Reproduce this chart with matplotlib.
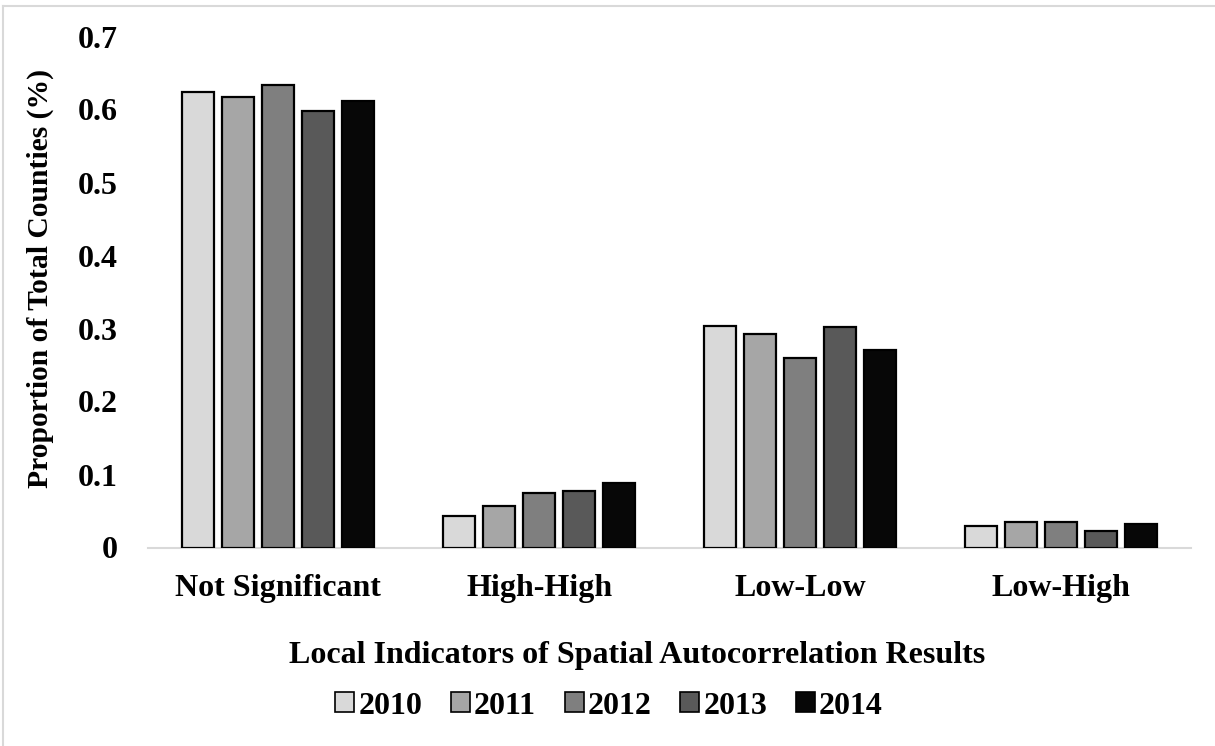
import numpy as np
import matplotlib
matplotlib.use("Agg")
import matplotlib.pyplot as plt
from matplotlib.lines import Line2D

# LISA cluster shares by year
categories = ["Not Significant", "High-High", "Low-Low", "Low-High"]
years      = ["2010", "2011", "2012", "2013", "2014"]
share_2010 = [0.624, 0.043, 0.303, 0.030]
share_2011 = [0.617, 0.057, 0.292, 0.035]
share_2012 = [0.634, 0.074, 0.259, 0.035]
share_2013 = [0.598, 0.078, 0.302, 0.023]
share_2014 = [0.611, 0.089, 0.271, 0.032]
series     = [share_2010, share_2011, share_2012, share_2013, share_2014]
colors     = ["#d9d9d9", "#a6a6a6", "#7f7f7f", "#595959", "#070707"]

plt.rcParams["font.family"] = ["Liberation Serif", "DejaVu Serif"]
plt.rcParams["font.weight"] = "bold"
FS = 23

W, H = 1215, 746
fig = plt.figure(figsize=(W / 100, H / 100), dpi=100)
ax = fig.add_axes([148 / W, 1 - 547.5 / H, (1191 - 148) / W, 511 / H])

x = np.arange(len(categories))
slot = 0.1534
bw = slot * 0.8
for i, (vals, c) in enumerate(zip(series, colors)):
    ax.bar(x + (i - 2) * slot, vals, bw, color=c, edgecolor="black",
           linewidth=1.6, label=years[i], zorder=3)

ax.set_xlim(-0.5, len(categories) - 0.5)
ax.set_ylim(0, 0.7)
ax.set_yticks(np.arange(0, 0.71, 0.1))
ax.set_yticklabels(["0"] + [f"{v:.1f}" for v in np.arange(0.1, 0.71, 0.1)])
ax.set_xticks(x)
ax.set_xticklabels(categories)
ax.tick_params(axis="both", length=0, labelsize=FS)
ax.tick_params(axis="y", pad=22)
ax.tick_params(axis="x", pad=19)
for lbl in ax.get_xticklabels() + ax.get_yticklabels():
    lbl.set_fontweight("bold")

for s in ["top", "right", "left"]:
    ax.spines[s].set_visible(False)
ax.spines["bottom"].set_color("#d9d9d9")
ax.spines["bottom"].set_linewidth(1.5)
ax.spines["bottom"].set_zorder(2)

fig.text(40 / W, 1 - 278 / H, "Proportion of Total Counties (%)", rotation=90,
         ha="center", va="center", fontsize=21.3, fontweight="bold")
fig.text(637 / W, 1 - 656 / H, "Local Indicators of Spatial Autocorrelation Results",
         ha="center", va="center", fontsize=FS, fontweight="bold")

handles = [plt.Rectangle((0, 0), 1, 1, facecolor=c, edgecolor="black", linewidth=1.2)
           for c in colors]
fig.legend(handles, years, loc="center", bbox_to_anchor=(609 / W, 1 - 706 / H),
           ncol=5, frameon=False, handlelength=0.6, handleheight=0.6,
           handletextpad=0.12, columnspacing=0.9,
           prop={"size": FS, "weight": "bold"})

# thin frame lines along the top and left edges
fig.add_artist(Line2D([2.5 / W, 1], [1 - 5.5 / H, 1 - 5.5 / H], color="#d9d9d9", lw=1.5))
fig.add_artist(Line2D([2.5 / W, 2.5 / W], [0, 1 - 5.5 / H], color="#d9d9d9", lw=1.5))

fig.savefig("out.png", dpi=100, facecolor="white")
